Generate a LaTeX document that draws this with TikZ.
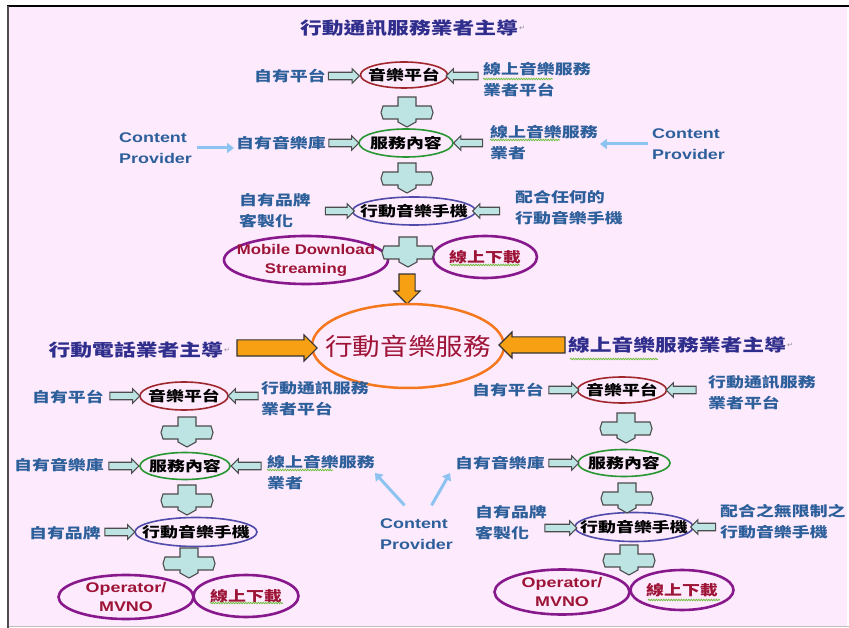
\documentclass[tikz,border=0pt]{standalone}
\usepackage{fontspec}
\usepackage{graphicx}
\setmainfont{Liberation Sans}
\newfontfamily\cjk{Noto Sans CJK TC}
\newfontfamily\symf{DejaVu Sans}
\usetikzlibrary{shapes.geometric,shapes.arrows,calc,arrows.meta,decorations.pathmorphing}
\definecolor{bgpink}{RGB}{253,234,253}
\definecolor{lblue}{RGB}{45,95,155}
\definecolor{navy}{RGB}{48,46,140}
\definecolor{mred}{RGB}{160,40,45}
\definecolor{egreen}{RGB}{40,150,50}
\definecolor{eblue}{RGB}{80,75,170}
\definecolor{epurple}{RGB}{135,25,140}
\definecolor{maroon}{RGB}{158,20,55}
\definecolor{eorange}{RGB}{245,120,30}
\definecolor{aorange}{RGB}{248,160,20}
\definecolor{acyan}{RGB}{190,227,227}
\definecolor{skyc}{RGB}{140,195,240}
\definecolor{wavy}{RGB}{110,190,60}
\newcommand{\hs}[2][1.28]{\scalebox{#1}[1]{#2}}
\begin{document}
\begin{tikzpicture}[x=1pt,y=-1pt,
  lab/.style={text=lblue, font=\cjk\fontsize{14}{21}\selectfont\bfseries, inner sep=0pt, align=left},
  latin/.style={text=lblue, font=\fontsize{14}{21}\selectfont\bfseries, inner sep=0pt, align=left},
  ttl/.style={text=navy, font=\cjk\fontsize{17}{20}\selectfont\bfseries, inner sep=0pt},
  pm/.style={text=black!45, font=\symf\fontsize{7}{8}\selectfont, inner sep=1pt},
  ell/.style={ellipse, draw=#1, line width=1.6pt, inner sep=0pt},
  etxt/.style={text=black, font=\cjk\fontsize{14}{16}\selectfont\bfseries, inner sep=0pt},
  pell/.style={ellipse, draw=epurple, line width=2.6pt, inner sep=0pt},
  ptxt/.style={text=maroon, font=\cjk\fontsize{14}{16}\selectfont\bfseries, inner sep=0pt},
  pltxt/.style={text=maroon, font=\fontsize{14}{19}\selectfont\bfseries, inner sep=0pt, align=center},
  ctxt/.style={text=maroon, font=\cjk\fontsize{24}{26}\selectfont, inner sep=0pt},
  barr/.style={single arrow, draw=black!70, fill=acyan, line width=1.1pt, inner xsep=0pt, inner ysep=3.2pt, single arrow head extend=3.5pt, minimum height=#1},
  oarr/.style={single arrow, draw=black!80, fill=aorange, line width=1.1pt, inner xsep=0pt, inner ysep=7.5pt, single arrow head extend=5pt, minimum height=#1},
  skyarr/.style={draw=skyc, line width=3pt, -{Triangle[length=7pt,width=10pt]}},
  wav/.style={draw=wavy, line width=0.8pt, decorate, decoration={snake, amplitude=0.7pt, segment length=2.5pt}},
  cross/.pic={\draw[draw=black!70, fill=acyan, line width=1.1pt] (-9,-15) -- (9,-15) -- (9,-6) -- (24,-6) -- (26,0.5) -- (24,7) -- (9,7) -- (9,10) -- (0,15) -- (-9,10) -- (-9,7) -- (-24,7) -- (-26,0.5) -- (-24,-6) -- (-9,-6) -- cycle;}
]
\useasboundingbox (0,0) rectangle (849,628);
\fill[white] (0,0) rectangle (849,628);
\fill[bgpink] (9,7) rectangle (847,626);
\draw[black, line width=2pt] (7,6.5) -- (849,6.5);
\draw[black!70, line width=1.5pt] (8,6) -- (8,628);
\draw[black!25, line width=1pt] (9,626.5) -- (849,626.5);

% ---------- top section ----------
\node[ttl] (T1) at (409,28) {\hs{行動通訊服務業者主導}};
\node[pm, anchor=west] (T1m) at (T1.east) {↵};

\node[ell=mred, minimum width=87pt, minimum height=26pt, label={[etxt]center:\hs{音樂平台}}] (E1) at (404,75) {};
\node[ell=egreen, minimum width=94pt, minimum height=28pt, label={[etxt]center:\hs{服務內容}}] (E2) at (406,143) {};
\node[ell=eblue, minimum width=123pt, minimum height=28pt, label={[etxt]center:\hs{行動音樂手機}}] (E3) at (414,211) {};
\node[pell, minimum width=164pt, minimum height=48pt, label={[pltxt]center:{\hs[1.2]{Mobile Download}\\\hs[1.2]{Streaming}}}] (M1) at (306,260) {};
\node[pell, minimum width=104pt, minimum height=42pt, label={[ptxt]center:\hs{線上下載}}] (D1) at (485,257) {};

\node[lab, anchor=east] (TL1) at (326,76) {\hs{自有平台}};
\node[lab, anchor=west] (TR1) at (483,80) {\hs{線上音樂服務}\\\hs{業者平台}};
\node[latin, anchor=west] (CP1) at (119,148) {\hs{Content}\\\hs{Provider}};
\node[lab, anchor=east] (TL2) at (326,143) {\hs{自有音樂庫}};
\node[lab, anchor=west] (TR2) at (490,143) {\hs{線上音樂服務}\\\hs{業者}};
\node[latin, anchor=west] (CP2) at (652,144) {\hs{Content}\\\hs{Provider}};
\node[lab, anchor=west] (TL3) at (239,211) {\hs{自有品牌}\\\hs{客製化}};
\node[lab, anchor=west] (TR3) at (515,208) {\hs{配合任何的}\\\hs{行動音樂手機}};

\node[barr=31pt] (a1) at (342,76) {};
\node[barr=32pt, shape border rotate=180] (a2) at (464,76) {};
\node[barr=30pt] (a3) at (342,143) {};
\node[barr=29pt, shape border rotate=180] (a4) at (470,143) {};
\node[barr=29pt] (a5) at (338,211) {};
\node[barr=27pt, shape border rotate=180] (a6) at (488,211) {};

\draw[skyarr, shorten <=5pt, shorten >=2pt] (CP1.east) -- (CP1.east -| TL2.west);
\draw[skyarr, shorten <=4pt, shorten >=2pt] (CP2.west) -- (CP2.west -| TR2.east);

\pic (x1) at (407,112) {cross};
\pic (x2) at (407,178) {cross};
\pic (x3) at (408,252) {cross};

\node[oarr=30pt, shape border rotate=270, inner xsep=7.5pt, inner ysep=0pt] (OD) at (407,285) {};

% ---------- center ----------
\node[ellipse, draw=eorange, line width=2.5pt, minimum width=192pt, minimum height=84pt, inner sep=0pt, label={[ctxt]center:\hs[1.15]{行動音樂服務}}] (C) at (408,346) {};
\node[ttl, anchor=east] (LT) at (223,350) {\hs{行動電話業者主導}};
\node[pm, anchor=west] (LTm) at (LT.east) {↵};
\node[ttl, anchor=west] (RT) at (568,345) {\hs{線上音樂服務業者主導}};
\node[pm, anchor=west] (RTm) at (RT.east) {↵};
\node[oarr=80pt] (OL) at (273,348) {};
\node[oarr=66pt, shape border rotate=180] (OR) at (536,345) {};

% ---------- bottom left ----------
\node[ell=mred, minimum width=88pt, minimum height=28pt, label={[etxt]center:\hs{音樂平台}}] (B1) at (184,396) {};
\node[ell=egreen, minimum width=90pt, minimum height=27pt, label={[etxt]center:\hs{服務內容}}] (B2) at (185,466) {};
\node[ell=eblue, minimum width=122pt, minimum height=29pt, label={[etxt]center:\hs{行動音樂手機}}] (B3) at (196,532) {};
\node[pell, minimum width=135pt, minimum height=44pt, label={[pltxt]center:{\hs{Operator/}\\\hs{MVNO}}}] (BO) at (126,597) {};
\node[pell, minimum width=105pt, minimum height=42pt, label={[ptxt]center:\hs{線上下載}}] (BD) at (246,596) {};

\node[lab, anchor=east] (BL1) at (104,397) {\hs{自有平台}};
\node[lab, anchor=west] (BR1x) at (261,399) {\hs{行動通訊服務}\\\hs{業者平台}};
\node[lab, anchor=east] (BL2) at (104,465) {\hs{自有音樂庫}};
\node[lab, anchor=west] (BR2x) at (267,473) {\hs{線上音樂服務}\\\hs{業者}};
\node[lab, anchor=east] (BL3) at (101,533) {\hs{自有品牌}};

\node[barr=30pt] (b1) at (123,396) {};
\node[barr=30pt, shape border rotate=180] (b2) at (245,396) {};
\node[barr=30pt] (b3) at (122,466) {};
\node[barr=30pt, shape border rotate=180] (b4) at (248,466) {};
\node[barr=30pt] (b5) at (118,532) {};

\pic (y1) at (187,432) {cross};
\pic (y2) at (187,500) {cross};
\pic (y3) at (189,563) {cross};

% ---------- bottom centre ----------
\node[latin, anchor=west] (CP3) at (380,534) {\hs{Content}\\\hs{Provider}};

% ---------- bottom right ----------
\node[ell=mred, minimum width=89pt, minimum height=26pt, label={[etxt]center:\hs{音樂平台}}] (R1) at (622,390) {};
\node[ell=egreen, minimum width=92pt, minimum height=27pt, label={[etxt]center:\hs{服務內容}}] (R2) at (624,463) {};
\node[ell=eblue, minimum width=118pt, minimum height=29pt, label={[etxt]center:\hs{行動音樂手機}}] (R3) at (634,527) {};
\node[pell, minimum width=135pt, minimum height=45pt, label={[pltxt]center:{\hs{Operator/}\\\hs{MVNO}}}] (RO) at (562,592) {};
\node[pell, minimum width=103pt, minimum height=40pt, label={[ptxt]center:\hs{線上下載}}] (RD) at (682,590) {};

\node[lab, anchor=east] (RL1) at (544,390) {\hs{自有平台}};
\node[lab, anchor=west] (RR1) at (708,393) {\hs{行動通訊服務}\\\hs{業者平台}};
\node[lab, anchor=east] (RL2) at (545,463) {\hs{自有音樂庫}};
\node[lab, anchor=west] (RL3) at (475,523) {\hs{自有品牌}\\\hs{客製化}};
\node[lab, anchor=west] (RR3) at (720,522) {\hs{配合之無限制之}\\\hs{行動音樂手機}};

\node[barr=30pt] (c1) at (562,390) {};
\node[barr=30pt, shape border rotate=180] (c2) at (683,390) {};
\node[barr=30pt] (c3) at (562,463) {};
\node[barr=32pt] (c4) at (559,528) {};
\node[barr=25pt, shape border rotate=180] (c5) at (705,527) {};

\pic (z1) at (626,428) {cross};
\pic (z2) at (627,498) {cross};
\pic (z3) at (629,560) {cross};

\draw[skyarr] ($(CP3.north)+(-12,-13)$) -- (BR2x.east);
\draw[skyarr] ($(CP3.north)+(15,-13)$) -- ($(RL2.south west)+(-5,3)$);

% ---------- spelling underlines ----------
\draw[wav] (483,79) -- (553,79);
\draw[wav] (490,140) -- (560,140);
\draw[wav] (450,265) -- (520,265);
\draw[wav] (570,359) -- (658,359);
\draw[wav] (267,470) -- (333,470);
\draw[wav] (210,603) -- (283,603);
\draw[wav] (648,600) -- (720,600);
\end{tikzpicture}
\end{document}
